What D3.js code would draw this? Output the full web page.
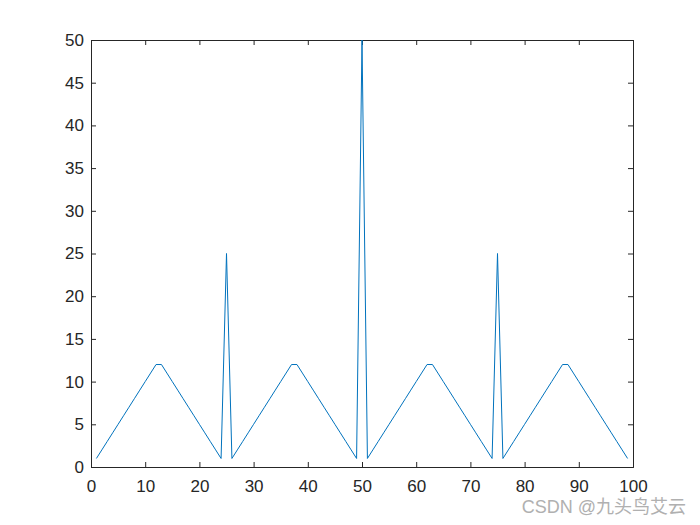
<!DOCTYPE html>
<html>
<head>
<meta charset="utf-8">
<script src="https://cdn.jsdelivr.net/npm/d3@7"></script>
<style>
  body { margin: 0; background: #fff; }
  svg { display: block; }
  text { font-family: "Liberation Sans", Arial, sans-serif; }
</style>
</head>
<body>
<svg id="chart" width="700" height="525"></svg>
<script>
// values, x = 1..99
const xs = d3.range(1, 100);
const ys = [
  1, 2, 3, 4, 5, 6, 7, 8, 9, 10, 11, 12, 12, 11, 10, 9, 8, 7, 6, 5, 4, 3, 2, 1,
  25,
  1, 2, 3, 4, 5, 6, 7, 8, 9, 10, 11, 12, 12, 11, 10, 9, 8, 7, 6, 5, 4, 3, 2, 1,
  50,
  1, 2, 3, 4, 5, 6, 7, 8, 9, 10, 11, 12, 12, 11, 10, 9, 8, 7, 6, 5, 4, 3, 2, 1,
  25,
  1, 2, 3, 4, 5, 6, 7, 8, 9, 10, 11, 12, 12, 11, 10, 9, 8, 7, 6, 5, 4, 3, 2, 1
];
const xTicks = d3.range(0, 101, 10);
const yTicks = d3.range(0, 51, 5);

const svg = d3.select('#chart');
const mLeft = 91, mRight = 633, mTop = 40, mBottom = 467;

const x = d3.scaleLinear().domain([0, 100]).range([mLeft, mRight]);
const y = d3.scaleLinear().domain([0, 50]).range([mBottom, mTop]);

const tickLen = 5;
const axisColor = '#262626';

// bottom axis
const xAxis = svg.append('g')
  .attr('transform', `translate(0,${mBottom})`)
  .call(d3.axisBottom(x).tickValues(xTicks).tickSize(-tickLen).tickPadding(13).tickFormat(d3.format('d')));
// top axis (ticks only)
const xAxisTop = svg.append('g')
  .attr('transform', `translate(0,${mTop})`)
  .call(d3.axisTop(x).tickValues(xTicks).tickSize(-tickLen).tickFormat(''));
// left axis
const yAxis = svg.append('g')
  .attr('transform', `translate(${mLeft},0)`)
  .call(d3.axisLeft(y).tickValues(yTicks).tickSize(-tickLen).tickPadding(7).tickFormat(d3.format('d')));
// right axis (ticks only)
const yAxisRight = svg.append('g')
  .attr('transform', `translate(${mRight},0)`)
  .call(d3.axisRight(y).tickValues(yTicks).tickSize(-tickLen).tickFormat(''));

[xAxis, xAxisTop, yAxis, yAxisRight].forEach(g => {
  g.select('.domain').attr('stroke', axisColor);
  g.selectAll('.tick line').attr('stroke', axisColor);
  g.selectAll('.tick text')
    .attr('fill', axisColor)
    .style('font-size', '17px')
    .style('font-family', '"Liberation Sans", Arial, sans-serif');
});

const line = d3.line()
  .x((d, i) => x(xs[i]))
  .y(d => y(d));

svg.append('path')
  .datum(ys)
  .attr('fill', 'none')
  .attr('stroke', '#0072BD')
  .attr('stroke-width', 1)
  .attr('d', line);

svg.append('text')
  .attr('x', 686)
  .attr('y', 513)
  .attr('text-anchor', 'end')
  .attr('fill', '#b0b0b0')
  .style('font-size', '18px')
  .style('font-family', '"Liberation Sans", "Noto Sans CJK SC", sans-serif')
  .text('CSDN @九头鸟艾云');
</script>
</body>
</html>
